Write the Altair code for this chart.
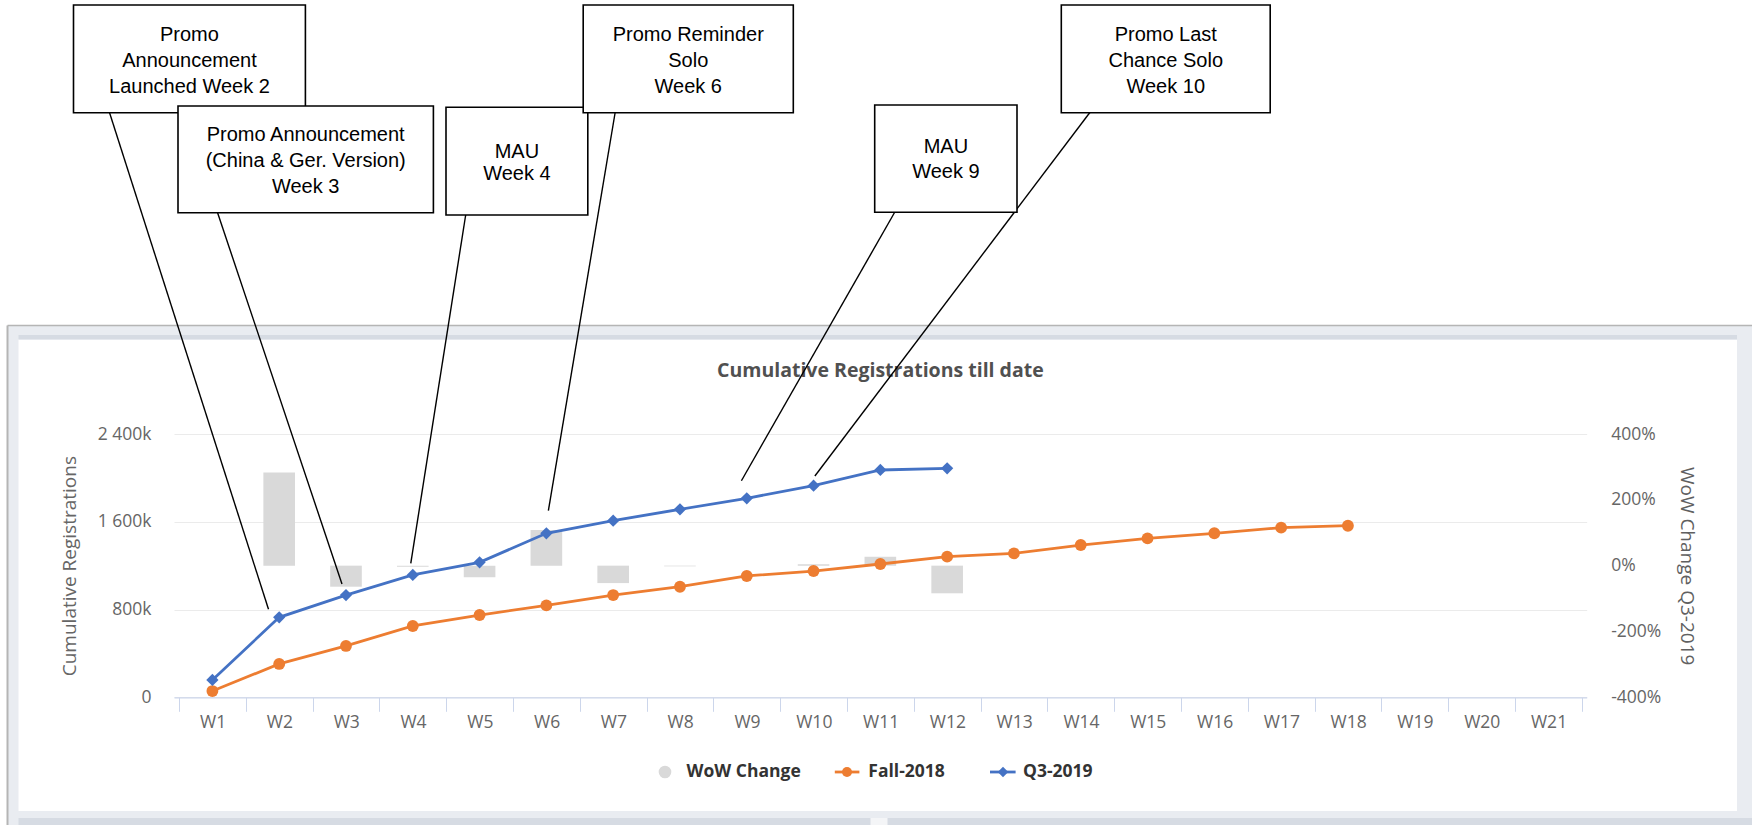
import json
import altair as alt
import pandas as pd

# ---------------- data ----------------
weeks = ["W1", "W2", "W3", "W4", "W5", "W6", "W7", "W8", "W9", "W10", "W11",
         "W12", "W13", "W14", "W15", "W16", "W17", "W18", "W19", "W20", "W21"]
fall_2018 = [57, 304, 468, 650, 750, 838, 932, 1008, 1106, 1151, 1215, 1282,
             1312, 1388, 1449, 1495, 1546, 1564]          # thousands
q3_2019 = [158, 729, 932, 1115, 1230, 1495, 1610, 1714, 1814, 1929, 2072, 2087]
wow_change = [None, 283, -64, -3, -35, 108, -53, -2, 0, 4, 27, -84]  # percent

series_names = ["WoW Change", "Fall-2018", "Q3-2019"]
series_colors = ["#d9d9d9", "#ED7D31", "#4472C4"]
left_ticks = [0, 800, 1600, 2400]
right_ticks = [-400, -200, 0, 200, 400]

chart_title = "Cumulative Registrations till date"
left_title = "Cumulative Registrations"
right_title = "WoW Change Q3-2019"

annotation_lines = [
    ["Promo", "Announcement", "Launched Week 2"],
    ["Promo Announcement", "(China & Ger. Version)", "Week 3"],
    ["MAU", "Week 4"],
    ["Promo Reminder", "Solo", "Week 6"],
    ["MAU", "Week 9"],
    ["Promo Last", "Chance Solo", "Week 10"],
]
# where each leader line touches the chart (week position, thousands)
annotation_week = [1.84, 2.94, 3.97, 6.03, 8.92, 10.02]
annotation_value = [802, 1033, 1221, 1701, 1974, 2017]

# ---------------- layout (page pixels) ----------------
ORIGIN_X, ORIGIN_Y = 174.0, 434.0
PLOT_W, PLOT_H = 1412.7, 263.3
BAND = PLOT_W / len(weeks)
BAR_W = BAND * 0.47


def rx(x):
    return x - ORIGIN_X


def ry(y):
    return y - ORIGIN_Y


box_rects = [(73.5, 5, 305.4, 112.7), (178, 106, 433.4, 212.7), (446, 107.3, 587.8, 215),
             (583.2, 5, 793.3, 112.7), (874.7, 105, 1017, 212.3), (1061.3, 5, 1270.2, 112.7)]
box_line_y = [[35, 60.5, 86.5], [135, 160.5, 186.5], [151.5, 174], [35, 60.5, 86.5],
              [147, 172], [35, 60.5, 86.5]]
leader_top = [(109, 111), (217, 211), (466, 213), (615.4, 111), (896, 210), (1091, 111)]

FONT = "Open Sans"
dummy = pd.DataFrame({"k": [0]})

# ---------------- scales / axes ----------------
X_SCALE = alt.Scale(domain=[0.5, len(weeks) + 0.5], nice=False, zero=False)
X_AXIS = alt.Axis(
    values=[i + 0.5 for i in range(len(weeks) + 1)],
    labelExpr=json.dumps(weeks) + "[round(datum.value - 0.5)] || ''",
    labelOffset=BAND / 2, labelFlush=False, labelOverlap=False, labelBound=False,
    ticks=True, tickSize=14, tickColor="#ccd6eb", tickWidth=1,
    domain=True, domainColor="#ccd6eb", domainWidth=1.2, grid=False,
    labelFont=FONT, labelFontSize=17.5, labelColor="#666666", labelPadding=2,
    title=None)
LEFT_SCALE = alt.Scale(domain=[0, 2400], nice=False, zero=True)
LEFT_AXIS = alt.Axis(
    values=left_ticks,
    labelExpr="datum.value == 0 ? '0' : replace(format(datum.value, ','), ',', ' ') + 'k'",
    orient="left", ticks=False, domain=False, grid=True, gridColor="#ebebeb", gridWidth=1,
    labelFont=FONT, labelFontSize=17.5, labelColor="#666666", labelPadding=23,
    title=left_title, titleFont=FONT, titleFontSize=19, titleFontWeight="normal",
    titleColor="#666666", titleX=69.3 - ORIGIN_X, titleY=PLOT_H / 2, titleAngle=270,
    titleAlign="center", titleBaseline="middle")
RIGHT_SCALE = alt.Scale(domain=[-400, 400], nice=False)
RIGHT_AXIS = alt.Axis(
    values=right_ticks, labelExpr="datum.value + '%'",
    orient="right", ticks=False, domain=False, grid=False,
    labelFont=FONT, labelFontSize=17.5, labelColor="#666666", labelPadding=24,
    labelAlign="left",
    title=right_title, titleFont=FONT, titleFontSize=19, titleFontWeight="normal",
    titleColor="#606060", titleX=100, titleY=PLOT_H / 2, titleAngle=90,
    titleAlign="center", titleBaseline="middle")


def xq(field):
    return alt.X(f"{field}:Q", scale=X_SCALE, axis=X_AXIS)


def yl(field):
    return alt.Y(f"{field}:Q", scale=LEFT_SCALE, axis=LEFT_AXIS)


# ---------------- data frames ----------------
fall_df = pd.DataFrame({"week": list(range(1, len(fall_2018) + 1)),
                        "label": weeks[:len(fall_2018)], "value": fall_2018})
q3_df = pd.DataFrame({"week": list(range(1, len(q3_2019) + 1)),
                      "label": weeks[:len(q3_2019)], "value": q3_2019})
wow_df = pd.DataFrame({"week": list(range(1, len(wow_change) + 1)),
                       "label": weeks[:len(wow_change)], "wow": wow_change}).dropna()

# ---------------- decoration helpers ----------------


def deco_rect(x1, y1, x2, y2, **mark):
    return alt.Chart(dummy).mark_rect(**mark).encode(
        x=alt.value(rx(x1)), x2=alt.value(rx(x2)), y=alt.value(ry(y1)), y2=alt.value(ry(y2)))


def deco_line(x1, y1, x2, y2, **mark):
    return alt.Chart(dummy).mark_rule(**mark).encode(
        x=alt.value(rx(x1)), x2=alt.value(rx(x2)), y=alt.value(ry(y1)), y2=alt.value(ry(y2)))


def deco_text(text, x, y, **mark):
    return alt.Chart(dummy).mark_text(**mark).encode(
        x=alt.value(rx(x)), y=alt.value(ry(y)), text=alt.value(text))


BAND_FILL = "#e9ecf1"
DARK_FILL = "#d6dbe3"
frame = [
    deco_rect(7.5, 325.5, 18.5, 850, fill=BAND_FILL),          # left strip
    deco_rect(7.5, 325.5, 1780, 339.5, fill=BAND_FILL),        # top strip
    deco_rect(18.5, 335, 1737, 339.5, fill=DARK_FILL),         # top inner shade
    deco_rect(1737, 325.5, 1780, 850, fill=BAND_FILL),         # right strip
    deco_rect(7.5, 811, 1780, 850, fill=BAND_FILL),            # bottom strip
    deco_rect(18.5, 818, 1780, 850, fill=DARK_FILL),           # next panel edge
    deco_rect(870.5, 818, 887.5, 850, fill="#f4f5f7"),         # gap between panels
    deco_line(7.5, 325.5, 1780, 325.5, color="#b5b5b5", strokeWidth=1.5),
    deco_line(7.5, 325.5, 7.5, 850, color="#b5b5b5", strokeWidth=2),
]

title_txt = deco_text(chart_title, ORIGIN_X + PLOT_W / 2, 371, font=FONT, fontSize=19.5,
                      fontWeight="bold", color="#505050", align="center", baseline="middle")

# ---------------- data layers ----------------
bars = alt.Chart(wow_df).mark_bar(orient="vertical", size=BAR_W, color=series_colors[0]).encode(
    x=xq("week"), y=alt.Y("wow:Q", scale=RIGHT_SCALE, axis=RIGHT_AXIS))

fall_line = alt.Chart(fall_df).mark_line(color=series_colors[1], strokeWidth=2.8).encode(
    x=xq("week"), y=yl("value"))
fall_pts = alt.Chart(fall_df).mark_point(shape="circle", filled=True, size=140, opacity=1,
                                         color=series_colors[1]).encode(x=xq("week"), y=yl("value"))
q3_line = alt.Chart(q3_df).mark_line(color=series_colors[2], strokeWidth=2.8).encode(
    x=xq("week"), y=yl("value"))
q3_pts = alt.Chart(q3_df).mark_point(shape="diamond", filled=True, size=150, opacity=1,
                                     color=series_colors[2]).encode(x=xq("week"), y=yl("value"))

leaders = []
for i in range(len(annotation_lines)):
    adf = pd.DataFrame({"week": [annotation_week[i]], "value": [annotation_value[i]]})
    leaders.append(alt.Chart(adf).mark_rule(color="black", strokeWidth=1.4).encode(
        x=xq("week"), y=yl("value"),
        x2=alt.value(rx(leader_top[i][0])), y2=alt.value(ry(leader_top[i][1]))))

lines_group = alt.layer(fall_line, fall_pts, q3_line, q3_pts, *leaders)

# ---------------- annotation boxes ----------------
boxes = []
box_texts = []
for i, lines in enumerate(annotation_lines):
    x1, y1, x2, y2 = box_rects[i]
    boxes.append(deco_rect(x1, y1, x2, y2, fill="white", stroke="black", strokeWidth=1.6))
    cx = (x1 + x2) / 2
    for line, ly in zip(lines, box_line_y[i]):
        box_texts.append(deco_text(line, cx, ly, font="Liberation Sans", fontSize=20,
                                   color="black", align="center", baseline="middle"))

# ---------------- legend ----------------
LEG_Y = 772
legend = [
    alt.Chart(dummy).mark_point(shape="circle", filled=True, size=160, opacity=1,
                                color=series_colors[0]).encode(
        x=alt.value(rx(665)), y=alt.value(ry(LEG_Y))),
    deco_text(series_names[0], 686.6, LEG_Y, font=FONT, fontSize=17.5, fontWeight="bold",
              color="#333333", align="left", baseline="middle"),
    deco_line(834.8, LEG_Y, 859.4, LEG_Y, color=series_colors[1], strokeWidth=2.8),
    alt.Chart(dummy).mark_point(shape="circle", filled=True, size=100, opacity=1,
                                color=series_colors[1]).encode(
        x=alt.value(rx(847)), y=alt.value(ry(LEG_Y))),
    deco_text(series_names[1], 868.3, LEG_Y, font=FONT, fontSize=17.5, fontWeight="bold",
              color="#333333", align="left", baseline="middle"),
    deco_line(990, LEG_Y, 1015.6, LEG_Y, color=series_colors[2], strokeWidth=2.8),
    alt.Chart(dummy).mark_point(shape="diamond", filled=True, size=110, opacity=1,
                                color=series_colors[2]).encode(
        x=alt.value(rx(1003)), y=alt.value(ry(LEG_Y))),
    deco_text(series_names[2], 1023, LEG_Y, font=FONT, fontSize=17.5, fontWeight="bold",
              color="#333333", align="left", baseline="middle"),
]

chart = alt.layer(*frame, title_txt, bars, lines_group, *boxes, *box_texts, *legend).resolve_scale(
    y="independent"
).properties(
    width=PLOT_W, height=PLOT_H,
    padding={"left": ORIGIN_X, "top": ORIGIN_Y,
             "right": 1752 - ORIGIN_X - PLOT_W, "bottom": 825 - ORIGIN_Y - PLOT_H},
    autosize=alt.AutoSizeParams(type="none"),
    background="white",
).configure_view(stroke="transparent")

chart.save("out.html", embed_options={"renderer": "svg", "actions": False})
